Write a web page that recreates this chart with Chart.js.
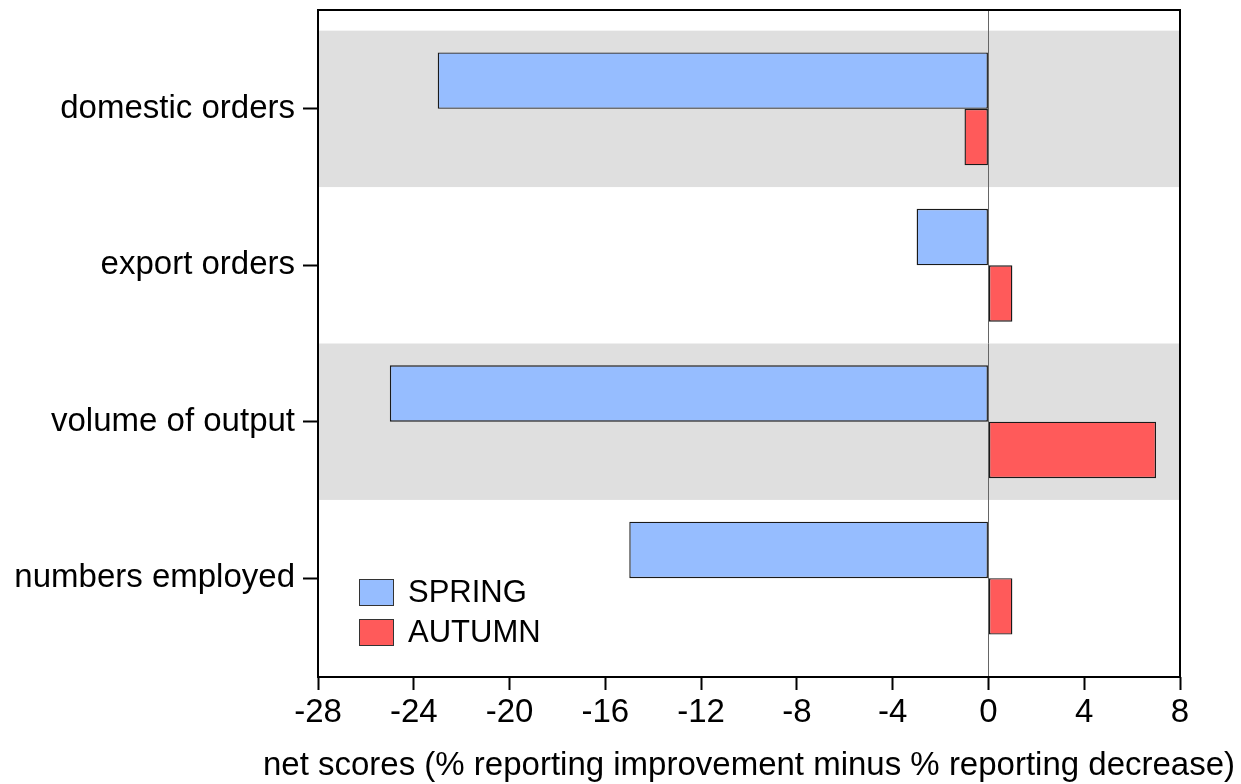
<!DOCTYPE html>
<html>
<head>
<meta charset="utf-8">
<script src="https://cdn.jsdelivr.net/npm/chart.js@4"></script>
<style>
  body { margin: 0; background: #fff; }
  #wrap { width: 1241px; height: 784px; position: relative; }
</style>
</head>
<body>
<div id="wrap"><canvas id="chart"></canvas></div>
<script>
// data
var categories = ['domestic orders', 'export orders', 'volume of output', 'numbers employed'];
var spring = [-23, -3, -25, -15];
var autumn = [-1, 1, 7, 1];
var xTicks = [-28, -24, -20, -16, -12, -8, -4, 0, 4, 8];
var shaded = [0, 2]; // categories with a grey band
var xTitle = 'net scores (% reporting improvement minus % reporting decrease)';

var FONT = '"Liberation Sans", Arial, sans-serif';

// grey bands behind alternate categories
var bandsPlugin = {
    id: 'bands',
    beforeDraw: function(chart) {
        var ctx = chart.ctx, a = chart.chartArea, y = chart.scales.y;
        ctx.save();
        ctx.fillStyle = '#dfdfdf';
        shaded.forEach(function(i) {
            var y1 = y.getPixelForValue(i - 0.5);
            var y2 = y.getPixelForValue(i + 0.5);
            ctx.fillRect(a.left, y1, a.right - a.left, y2 - y1);
        });
        ctx.restore();
    }
};

// box round the plot, the legend inside it, and the x title
// (the axis title of chart.js gets squeezed to the plot width)
var framePlugin = {
    id: 'frame',
    afterDraw: function(chart) {
        var ctx = chart.ctx, a = chart.chartArea;
        ctx.save();
        ctx.strokeStyle = '#000';
        ctx.lineWidth = 2;
        ctx.strokeRect(a.left, a.top, a.right - a.left, a.bottom - a.top);

        var sets = chart.data.datasets;
        ctx.font = '31px ' + FONT;
        ctx.textBaseline = 'middle';
        ctx.lineWidth = 1;
        sets.forEach(function(ds, i) {
            var bx = a.left + 41, by = a.bottom - 98 + i * 40;
            ctx.fillStyle = ds.backgroundColor;
            ctx.fillRect(bx, by, 34, 26);
            ctx.strokeStyle = '#333';
            ctx.strokeRect(bx + 0.5, by + 0.5, 34, 26);
            ctx.fillStyle = '#000';
            ctx.fillText(ds.label, bx + 49, by + 14);
        });

        ctx.font = '33px ' + FONT;
        ctx.textAlign = 'center';
        ctx.textBaseline = 'alphabetic';
        ctx.fillText(xTitle, (a.left + a.right) / 2, a.bottom + 98);
        ctx.restore();
    }
};

var ctx = document.getElementById('chart').getContext('2d');
var chart = new Chart(ctx, {
    type: 'bar',
    data: {
        datasets: [{
            label: 'SPRING',
            data: spring.map(function(v, i) { return { x: v, y: i }; }),
            backgroundColor: '#96bdff',
            borderColor: '#1a1a1a',
            borderWidth: 1.4,
            borderSkipped: false
        }, {
            label: 'AUTUMN',
            data: autumn.map(function(v, i) { return { x: v, y: i }; }),
            backgroundColor: '#ff5a5a',
            borderColor: '#1a1a1a',
            borderWidth: 1.4,
            borderSkipped: false
        }]
    },
    options: {
        indexAxis: 'y',
        responsive: true,
        maintainAspectRatio: false,
        animation: false,
        categoryPercentage: 0.722,
        barPercentage: 1,
        layout: { padding: { top: 10, right: 61, left: 0, bottom: 0 } },
        plugins: {
            legend: { display: false },
            tooltip: { enabled: false }
        },
        scales: {
            x: {
                type: 'linear',
                min: -28,
                max: 8,
                afterBuildTicks: function(s) {
                    s.ticks = xTicks.map(function(v) { return { value: v }; });
                },
                afterFit: function(s) { s.height = 107; },
                border: { display: false },
                grid: {
                    color: function(c) { return c.tick && c.tick.value === 0 ? '#666' : 'rgba(0,0,0,0)'; },
                    tickColor: '#000',
                    tickLength: 13,
                    lineWidth: 1,
                    tickWidth: 2
                },
                ticks: {
                    color: '#000',
                    padding: 3,
                    maxRotation: 0,
                    font: { family: FONT, size: 33 }
                }
            },
            y: {
                type: 'linear',
                reverse: true,
                offset: false,
                min: -0.632,
                max: 3.632,
                afterBuildTicks: function(s) {
                    s.ticks = categories.map(function(c, i) { return { value: i }; });
                },
                afterFit: function(s) {
                    s.width = 318;
                    s.paddingTop = 0;
                    s.paddingBottom = 0;
                },
                border: { display: false },
                grid: {
                    offset: false,
                    drawOnChartArea: false,
                    tickColor: '#000',
                    tickLength: 15,
                    tickWidth: 2
                },
                ticks: {
                    color: '#000',
                    padding: 8,
                    font: { family: FONT, size: 33 },
                    callback: function(v) { return categories[v]; }
                }
            }
        }
    },
    plugins: [bandsPlugin, framePlugin]
});
</script>
</body>
</html>
